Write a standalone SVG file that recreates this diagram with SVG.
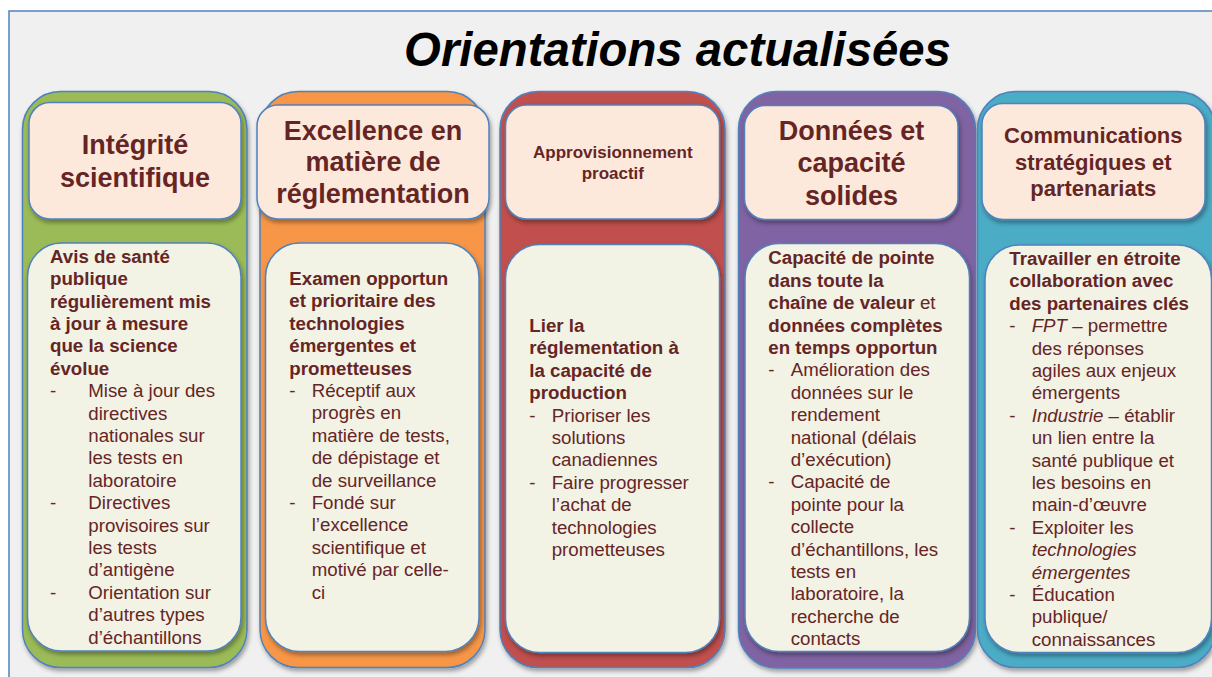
<svg xmlns="http://www.w3.org/2000/svg" width="1212" height="677" viewBox="0 0 1212 677">
<defs>
<filter id="sh" x="-10%" y="-10%" width="125%" height="125%">
<feDropShadow dx="1.5" dy="3" stdDeviation="2" flood-color="#000" flood-opacity="0.35"/>
</filter>
<style>
.frame{fill:#f0f0f0;stroke:#4f81bd;stroke-width:1.5}
.outer{stroke:#4f81bd;stroke-width:1.5;filter:url(#sh)}
.head{fill:#fde9dc;stroke:#4f81bd;stroke-width:1.5;filter:url(#sh)}
.body{fill:#f2f2e5;stroke:#4f81bd;stroke-width:1.5;filter:url(#sh)}
text{font-family:"Liberation Sans",Arial,sans-serif;fill:#662525}
.title{font-size:47.3px;font-weight:bold;font-style:italic;fill:#000}
.h{font-size:27px;font-weight:bold;text-anchor:middle}
.h2{font-size:22px;font-weight:bold;text-anchor:middle}
.h3{font-size:17px;font-weight:bold;text-anchor:middle}
.t{font-size:18.7px}
.b{font-weight:bold}
.i{font-style:italic}
</style>
</defs>
<rect class="frame" x="9" y="11" width="1215" height="680"/>
<text class="title" x="677.5" y="66" text-anchor="middle">Orientations actualisées</text>

<g id="col1">
<rect class="outer" x="22.5" y="91.5" width="224.5" height="576" rx="38" fill="#9bbb59"/>
<rect class="head" x="29" y="102.5" width="212" height="116.5" rx="21"/>
<text class="h" x="135" y="154">Intégrité</text>
<text class="h" x="135" y="186.5">scientifique</text>
<rect class="body" x="27.5" y="243" width="213.5" height="408" rx="34"/>
<text class="t b">
<tspan x="50" y="262.7">Avis de santé</tspan>
<tspan x="50" y="285.1">publique</tspan>
<tspan x="50" y="307.5">régulièrement mis</tspan>
<tspan x="50" y="329.9">à jour à mesure</tspan>
<tspan x="50" y="352.3">que la science</tspan>
<tspan x="50" y="374.7">évolue</tspan>
</text>
<text class="t">
<tspan x="50" y="397.1">-</tspan><tspan x="88.3" y="397.1">Mise à jour des</tspan>
<tspan x="88.3" y="419.5">directives</tspan>
<tspan x="88.3" y="441.9">nationales sur</tspan>
<tspan x="88.3" y="464.3">les tests en</tspan>
<tspan x="88.3" y="486.7">laboratoire</tspan>
<tspan x="50" y="509.1">-</tspan><tspan x="88.3" y="509.1">Directives</tspan>
<tspan x="88.3" y="531.5">provisoires sur</tspan>
<tspan x="88.3" y="553.9">les tests</tspan>
<tspan x="88.3" y="576.3">d’antigène</tspan>
<tspan x="50" y="598.7">-</tspan><tspan x="88.3" y="598.7">Orientation sur</tspan>
<tspan x="88.3" y="621.1">d’autres types</tspan>
<tspan x="88.3" y="643.5">d’échantillons</tspan>
</text>
</g>

<g id="col2">
<rect class="outer" x="260" y="91.5" width="225" height="576" rx="38" fill="#f79646"/>
<rect class="head" x="257" y="105" width="232" height="114" rx="21"/>
<text class="h" x="373" y="140">Excellence en</text>
<text class="h" x="373" y="171">matière de</text>
<text class="h" x="373" y="202.5">réglementation</text>
<rect class="body" x="265.5" y="243" width="213.5" height="408.5" rx="34"/>
<text class="t b">
<tspan x="289.3" y="285">Examen opportun</tspan>
<tspan x="289.3" y="307.4">et prioritaire des</tspan>
<tspan x="289.3" y="329.8">technologies</tspan>
<tspan x="289.3" y="352.2">émergentes et</tspan>
<tspan x="289.3" y="374.6">prometteuses</tspan>
</text>
<text class="t">
<tspan x="289.3" y="397">-</tspan><tspan x="311.7" y="397">Réceptif aux</tspan>
<tspan x="311.7" y="419.4">progrès en</tspan>
<tspan x="311.7" y="441.8">matière de tests,</tspan>
<tspan x="311.7" y="464.2">de dépistage et</tspan>
<tspan x="311.7" y="486.6">de surveillance</tspan>
<tspan x="289.3" y="509">-</tspan><tspan x="311.7" y="509">Fondé sur</tspan>
<tspan x="311.7" y="531.4">l’excellence</tspan>
<tspan x="311.7" y="553.8">scientifique et</tspan>
<tspan x="311.7" y="576.2">motivé par celle-</tspan>
<tspan x="311.7" y="598.6">ci</tspan>
</text>
</g>

<g id="col3">
<rect class="outer" x="500" y="91.5" width="225" height="576" rx="38" fill="#c0504d"/>
<rect class="head" x="505.5" y="105" width="214" height="114" rx="21"/>
<text class="h3" x="612.8" y="158.3">Approvisionnement</text>
<text class="h3" x="612.8" y="179.3">proactif</text>
<rect class="body" x="505.5" y="244.5" width="214" height="408" rx="34"/>
<text class="t b">
<tspan x="529.3" y="332">Lier la</tspan>
<tspan x="529.3" y="354.4">réglementation à</tspan>
<tspan x="529.3" y="376.8">la capacité de</tspan>
<tspan x="529.3" y="399.2">production</tspan>
</text>
<text class="t">
<tspan x="529.3" y="421.6">-</tspan><tspan x="551.7" y="421.6">Prioriser les</tspan>
<tspan x="551.7" y="444">solutions</tspan>
<tspan x="551.7" y="466.4">canadiennes</tspan>
<tspan x="529.3" y="488.8">-</tspan><tspan x="551.7" y="488.8">Faire progresser</tspan>
<tspan x="551.7" y="511.2">l’achat de</tspan>
<tspan x="551.7" y="533.6">technologies</tspan>
<tspan x="551.7" y="556">prometteuses</tspan>
</text>
</g>

<g id="col4">
<rect class="outer" x="738.5" y="91.5" width="237" height="576.5" rx="38" fill="#8064a2"/>
<rect class="head" x="744.5" y="105.5" width="213.5" height="114" rx="21"/>
<text class="h" x="851.5" y="140">Données et</text>
<text class="h" x="851.5" y="172">capacité</text>
<text class="h" x="851.5" y="205">solides</text>
<rect class="body" x="745" y="243.5" width="224.5" height="408" rx="34"/>
<text class="t">
<tspan x="768.3" y="264.3" class="b">Capacité de pointe</tspan>
<tspan x="768.3" y="286.7" class="b">dans toute la</tspan>
<tspan x="768.3" y="309.1"><tspan class="b">chaîne de valeur</tspan> et</tspan>
<tspan x="768.3" y="331.5" class="b">données complètes</tspan>
<tspan x="768.3" y="353.9" class="b">en temps opportun</tspan>
<tspan x="768.3" y="376.3">-</tspan><tspan x="790.7" y="376.3">Amélioration des</tspan>
<tspan x="790.7" y="398.7">données sur le</tspan>
<tspan x="790.7" y="421.1">rendement</tspan>
<tspan x="790.7" y="443.5">national (délais</tspan>
<tspan x="790.7" y="465.9">d’exécution)</tspan>
<tspan x="768.3" y="488.3">-</tspan><tspan x="790.7" y="488.3">Capacité de</tspan>
<tspan x="790.7" y="510.7">pointe pour la</tspan>
<tspan x="790.7" y="533.1">collecte</tspan>
<tspan x="790.7" y="555.5">d’échantillons, les</tspan>
<tspan x="790.7" y="577.9">tests en</tspan>
<tspan x="790.7" y="600.3">laboratoire, la</tspan>
<tspan x="790.7" y="622.7">recherche de</tspan>
<tspan x="790.7" y="645.1">contacts</tspan>
</text>
</g>

<g id="col5">
<rect class="outer" x="977.5" y="91.5" width="238" height="576" rx="38" fill="#4bacc6"/>
<rect class="head" x="982" y="103.5" width="223" height="116" rx="21"/>
<text class="h2" x="1093.3" y="143.3">Communications</text>
<text class="h2" x="1093.3" y="169.5">stratégiques et</text>
<text class="h2" x="1093.3" y="195.5">partenariats</text>
<rect class="body" x="985" y="245" width="226.5" height="407.5" rx="34"/>
<text class="t">
<tspan x="1009.3" y="265" class="b">Travailler en étroite</tspan>
<tspan x="1009.3" y="287.4" class="b">collaboration avec</tspan>
<tspan x="1009.3" y="309.8" class="b">des partenaires clés</tspan>
<tspan x="1009.3" y="332.2">-</tspan><tspan x="1031.7" y="332.2"><tspan class="i">FPT</tspan> – permettre</tspan>
<tspan x="1031.7" y="354.6">des réponses</tspan>
<tspan x="1031.7" y="377">agiles aux enjeux</tspan>
<tspan x="1031.7" y="399.4">émergents</tspan>
<tspan x="1009.3" y="421.8">-</tspan><tspan x="1031.7" y="421.8"><tspan class="i">Industrie</tspan> – établir</tspan>
<tspan x="1031.7" y="444.2">un lien entre la</tspan>
<tspan x="1031.7" y="466.6">santé publique et</tspan>
<tspan x="1031.7" y="489">les besoins en</tspan>
<tspan x="1031.7" y="511.4">main-d’œuvre</tspan>
<tspan x="1009.3" y="533.8">-</tspan><tspan x="1031.7" y="533.8">Exploiter les</tspan>
<tspan x="1031.7" y="556.2" class="i">technologies</tspan>
<tspan x="1031.7" y="578.6" class="i">émergentes</tspan>
<tspan x="1009.3" y="601">-</tspan><tspan x="1031.7" y="601">Éducation</tspan>
<tspan x="1031.7" y="623.4">publique/</tspan>
<tspan x="1031.7" y="645.8">connaissances</tspan>
</text>
</g>
</svg>
